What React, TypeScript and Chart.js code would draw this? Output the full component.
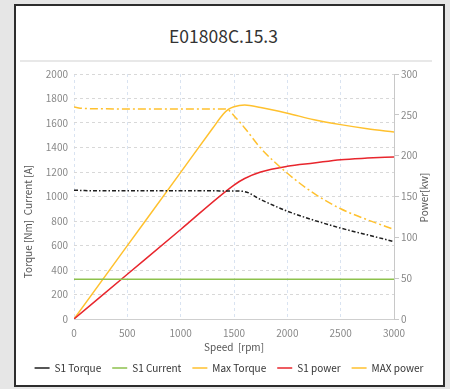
import React, { useEffect, useRef } from 'react';
import { Chart, registerables } from 'chart.js';

Chart.register(...registerables);

const TITLE = 'E01808C.15.3';
const X_TITLE = 'Speed  [rpm]';
const LEFT_TITLE = 'Torque [Nm]  Current [A]';
const RIGHT_TITLE = 'Power[kw]';

const speedMin = 0;
const speedMax = 3000;
const speedStep = 500;
const leftMax = 2000;
const leftStep = 200;
const rightMax = 300;
const rightStep = 50;

const s1TorqueSpeed = [0, 100, 500, 1000, 1500, 1600, 1750, 2000, 2250, 2500, 2750, 3000];
const s1Torque = [1052, 1048, 1047, 1047, 1045, 1040, 975, 880, 806, 742, 687, 632];

const s1CurrentSpeed = [0, 3000];
const s1Current = [325, 325];

const maxTorqueSpeed = [0, 100, 500, 1000, 1400, 1450, 1500, 1600, 1750, 2000, 2250, 2500, 2750, 3000];
const maxTorque = [1730, 1718, 1715, 1715, 1715, 1705, 1660, 1560, 1395, 1190, 1025, 900, 810, 731];

const s1PowerSpeed = [0, 500, 1000, 1500, 1600, 1750, 2000, 2250, 2500, 2750, 3000];
const s1Power = [0, 54.8, 109.6, 164, 172, 180, 187, 191, 195, 197, 198.5];

const maxPowerSpeed = [0, 500, 1000, 1300, 1400, 1450, 1500, 1600, 1750, 2000, 2250, 2500, 2750, 3000];
const maxPower = [0, 89.8, 179.6, 233.5, 251, 257, 260, 262, 259, 252, 244, 238, 233, 229];

const pts = (xs: number[], ys: number[]) => xs.map((x, i) => ({ x, y: ys[i] }));

const FONT = '"Noto Sans CJK SC", "Noto Sans", sans-serif';

const axisTitles = {
  id: 'axisTitles',
  afterDraw(chart: any) {
    const { ctx, chartArea } = chart;
    const ys = chart.scales.y;
    const y1 = chart.scales.y1;
    const midY = (chartArea.top + chartArea.bottom) / 2;
    ctx.save();
    ctx.font = `10px ${FONT}`;
    ctx.fillStyle = '#555';
    ctx.textAlign = 'center';
    ctx.textBaseline = 'middle';
    ctx.save();
    ctx.translate(ys.left + 12.5, midY + 25);
    ctx.rotate(-Math.PI / 2);
    ctx.fillText(LEFT_TITLE, 0, 0);
    ctx.restore();
    ctx.save();
    ctx.translate(y1.right - 17.5, midY + 1);
    ctx.rotate(-Math.PI / 2);
    ctx.fillText(RIGHT_TITLE, 0, 0);
    ctx.restore();
    ctx.restore();
  },
};

const plain = (v: any) => String(v);

export default function App() {
  const ref = useRef<HTMLCanvasElement>(null);

  useEffect(() => {
    Chart.defaults.font.family = FONT;
    const line = (label: string, data: any[], color: string, axis: string, dash: number[] = [], width = 1.5) => ({
      label,
      data,
      borderColor: color,
      backgroundColor: color,
      borderWidth: width,
      borderDash: dash,
      pointRadius: 0,
      pointHoverRadius: 0,
      fill: false,
      cubicInterpolationMode: 'monotone' as const,
      yAxisID: axis,
    });

    const chart = new Chart(ref.current!, {
      type: 'line',
      data: {
        datasets: [
          line('S1 Torque', pts(s1TorqueSpeed, s1Torque), '#1e1e1e', 'y', [4, 2, 1.5, 2]),
          line('S1 Current', pts(s1CurrentSpeed, s1Current), '#8dc14c', 'y'),
          line('Max Torque', pts(maxTorqueSpeed, maxTorque), '#ffc12e', 'y', [8, 3, 2, 3]),
          line('S1 power', pts(s1PowerSpeed, s1Power), '#e8262d', 'y1'),
          line('MAX power', pts(maxPowerSpeed, maxPower), '#ffc12e', 'y1'),
        ],
      },
      options: {
        responsive: false,
        animation: false,
        devicePixelRatio: 1,
        layout: { padding: { left: 16, right: 8, top: 74, bottom: 6 } },
        plugins: {
          title: { display: false },
          tooltip: { enabled: false },
          legend: {
            position: 'bottom',
            labels: {
              usePointStyle: true,
              pointStyle: 'line',
              pointStyleWidth: 15,
              padding: 11,
              color: '#333',
              font: { size: 10 },
            },
          },
        },
        scales: {
          x: {
            type: 'linear',
            min: speedMin,
            max: speedMax,
            ticks: { stepSize: speedStep, color: '#888', padding: 8, font: { size: 10 }, callback: plain },
            grid: { color: '#d9e3f1', drawTicks: false },
            border: { display: true, color: '#cfcfcf', dash: [3, 3] },
            title: { display: true, text: X_TITLE, color: '#555', font: { size: 10, lineHeight: 0.86 }, padding: 0 },
            afterFit: (s: any) => { s.height = 33; },
          },
          y: {
            position: 'left',
            min: 0,
            max: leftMax,
            ticks: { stepSize: leftStep, color: '#888', padding: 6, font: { size: 10 }, callback: plain },
            grid: { color: '#d8d8d8', drawTicks: false },
            border: { display: false, dash: [3, 3] },
            afterFit: (s: any) => { s.width = 58; },
          },
          y1: {
            position: 'right',
            min: 0,
            max: rightMax,
            ticks: { stepSize: rightStep, color: '#888', padding: 2, font: { size: 10 }, callback: plain },
            grid: { drawOnChartArea: false, drawTicks: true, tickLength: 5, color: '#c8c8c8' },
            border: { display: true, color: '#c8c8c8' },
            afterFit: (s: any) => { s.width = 48; },
          },
        },
      },
      plugins: [axisTitles],
    });
    return () => chart.destroy();
  }, []);

  return (
    <div style={{ position: 'fixed', left: 0, top: 0, width: 450, height: 389, background: '#e6e6e6', overflow: 'hidden' }}>
      <div style={{ position: 'absolute', left: 14, top: 4, width: 427, height: 379, border: '2px solid #2d2d2d', background: '#fff' }} />
      <div style={{ position: 'absolute', left: 20, top: 60, width: 412, height: 2, background: '#e8e8e8' }} />
      <div style={{ position: 'absolute', left: 8, top: 26, width: 431, textAlign: 'center', fontFamily: FONT, fontSize: 17.5, lineHeight: '20px', color: '#333' }}>{TITLE}</div>
      <canvas ref={ref} width={450} height={389} style={{ position: 'absolute', left: 0, top: 0, width: 450, height: 389 }} />
    </div>
  );
}
